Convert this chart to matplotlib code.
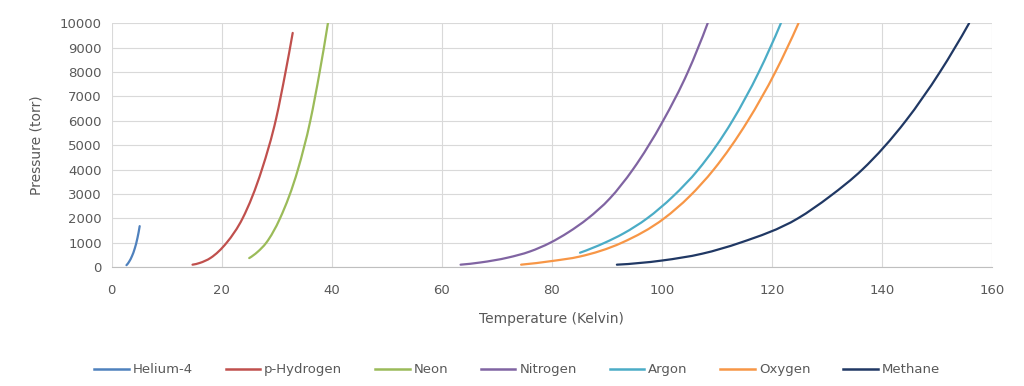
import matplotlib
matplotlib.use("Agg")
import matplotlib.pyplot as plt
from matplotlib.path import Path
from matplotlib.patches import PathPatch
from matplotlib.lines import Line2D
import numpy as np

# ---- data ----
he_T = [2.7, 3.2, 3.7, 4.2, 4.7, 5.1]
he_P = [80, 230, 450, 760, 1200, 1680]

ph2_T = [14.7, 16.0, 18.0, 20.9, 23.8, 27.3, 29.9, 31.6, 32.9]
ph2_P = [100, 170, 380, 1000, 2000, 4000, 6100, 8000, 9600]

ne_T = [25.0, 26.5, 28.1, 30.6, 33.85, 36.1, 37.8, 39.3]
ne_P = [370, 620, 1000, 2000, 4000, 6000, 8000, 10000]

n2_T = [63.4, 67.0, 72.0, 76.0, 79.7, 83.0, 86.5, 90.5, 94.7, 100.2, 104.7, 108.3]
n2_P = [100, 190, 390, 640, 1000, 1430, 1990, 2810, 4000, 6000, 8000, 10000]

ar_T = [85.1, 89.6, 93.0, 97.3, 102.0, 106.6, 112.8, 117.6, 121.6]
ar_P = [590, 1000, 1380, 2000, 2900, 4000, 6000, 8000, 10000]

o2_T = [74.4, 80.0, 85.0, 92.7, 100.4, 105.0, 109.4, 115.6, 120.6, 124.8]
o2_P = [100, 250, 430, 1000, 2000, 2900, 4000, 6000, 8000, 10000]

ch4_T = [91.8, 100.0, 107.3, 114.2, 124.7, 130.5, 136.4, 144.3, 150.5, 155.8]
ch4_P = [100, 270, 550, 1000, 2000, 2900, 4000, 6000, 8000, 10000]

names = ["Helium-4", "p-Hydrogen", "Neon", "Nitrogen", "Argon", "Oxygen", "Methane"]
colors = ["#4F81BD", "#C0504D", "#9BBB59", "#8064A2", "#4BACC6", "#F79646", "#203864"]
series = [(he_T, he_P), (ph2_T, ph2_P), (ne_T, ne_P), (n2_T, n2_P),
          (ar_T, ar_P), (o2_T, o2_P), (ch4_T, ch4_P)]

x_ticks = [0, 20, 40, 60, 80, 100, 120, 140, 160]
y_ticks = [0, 1000, 2000, 3000, 4000, 5000, 6000, 7000, 8000, 9000, 10000]

plt.rcParams['font.family'] = ['DejaVu Sans']
txt = "#595959"

fig = plt.figure(figsize=(10.24, 3.86), dpi=100)
ax = fig.add_axes([0.109, 0.308, 0.860, 0.632])


def smooth_path(xs, ys):
    """Smooth line through the read points (cubic Hermite segments drawn as Bezier curves)."""
    xs = np.asarray(xs, float)
    ys = np.asarray(ys, float)
    n = len(xs)
    h = np.diff(xs)
    d = np.diff(ys) / h
    m = np.empty(n)
    for i in range(1, n - 1):
        m[i] = (d[i - 1] * h[i] + d[i] * h[i - 1]) / (h[i - 1] + h[i])
    m[0] = max(2 * d[0] - m[1], 0.0)
    m[-1] = 2 * d[-1] - m[-2]
    verts = [(xs[0], ys[0])]
    codes = [Path.MOVETO]
    for i in range(n - 1):
        c1 = (xs[i] + h[i] / 3, ys[i] + m[i] * h[i] / 3)
        c2 = (xs[i + 1] - h[i] / 3, ys[i + 1] - m[i + 1] * h[i] / 3)
        verts += [c1, c2, (xs[i + 1], ys[i + 1])]
        codes += [Path.CURVE4] * 3
    return Path(verts, codes)


for (T, P), c in zip(series, colors):
    patch = PathPatch(smooth_path(T, P), facecolor="none", edgecolor=c,
                      lw=1.6, capstyle="round", joinstyle="round", zorder=3)
    ax.add_patch(patch)

ax.set_xlim(0, 160)
ax.set_ylim(0, 10000)
ax.set_xticks(x_ticks)
ax.set_yticks(y_ticks)
ax.grid(True, color="#D9D9D9", lw=0.8, zorder=0)
ax.set_axisbelow(True)
for s in ["top", "right", "left"]:
    ax.spines[s].set_visible(False)
ax.spines["bottom"].set_color("#BFBFBF")
ax.spines["bottom"].set_linewidth(0.8)
ax.tick_params(length=0, colors=txt, labelsize=9.5)
ax.tick_params(axis="x", pad=12)
ax.tick_params(axis="y", pad=7)
ax.set_xlabel("Temperature (Kelvin)", color=txt, fontsize=10, labelpad=11)
ax.set_ylabel("Pressure (torr)", color=txt, fontsize=10, labelpad=12)

handles = [Line2D([0], [0], color=c, lw=1.8) for c in colors]
fig.legend(handles, names, loc="center", bbox_to_anchor=(0.505, 0.042), ncol=7,
           frameon=False, fontsize=9.5, labelcolor=txt, handlelength=2.6,
           handletextpad=0.3, columnspacing=2.5)

fig.savefig("out.png", dpi=100, facecolor="white")
